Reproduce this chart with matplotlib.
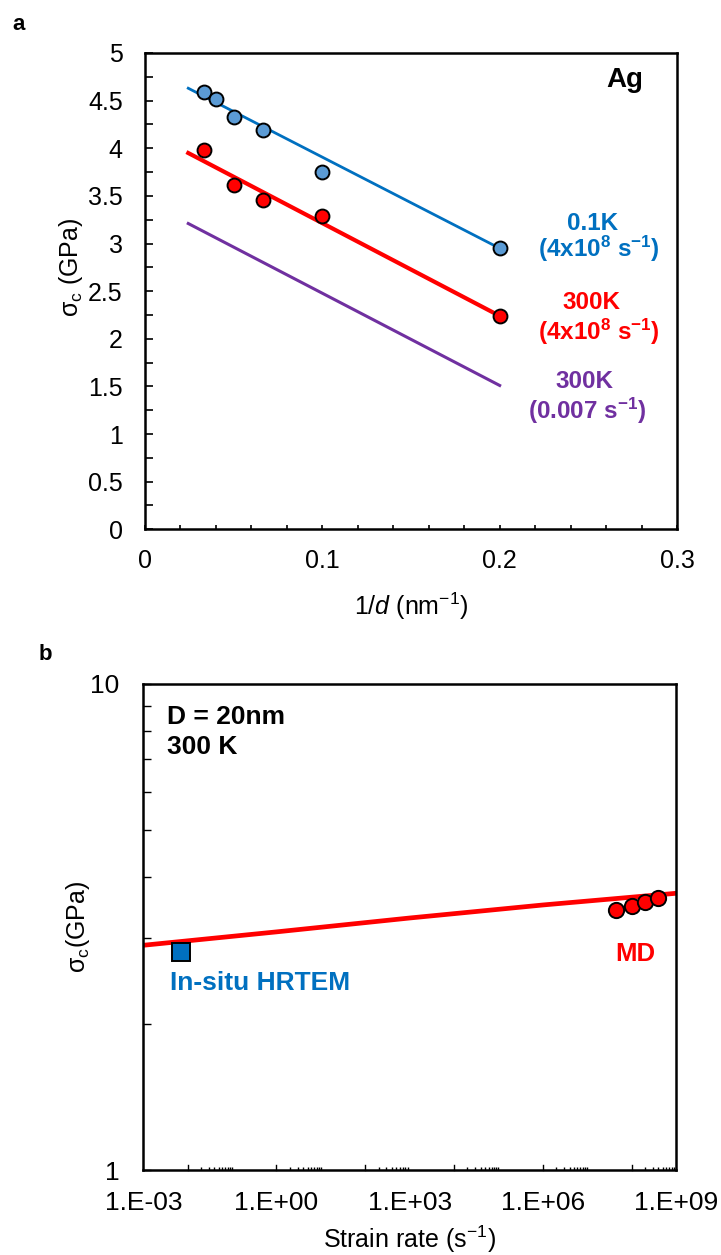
import matplotlib
matplotlib.use("Agg")
import matplotlib.pyplot as plt
from matplotlib.ticker import FixedLocator, MultipleLocator, NullFormatter

plt.rcParams['font.family'] = ['Liberation Sans', 'DejaVu Sans']
plt.rcParams['mathtext.fontset'] = 'custom'
plt.rcParams['mathtext.rm'] = 'Liberation Sans'
plt.rcParams['mathtext.it'] = 'Liberation Sans:italic'
plt.rcParams['mathtext.bf'] = 'Liberation Sans:bold'

# panel a: critical stress vs 1/d
inv_d = [0.0333, 0.04, 0.05, 0.0667, 0.1, 0.2]
sigma_01K = [4.59, 4.52, 4.33, 4.19, 3.75, 2.95]
inv_d_300K = [0.0333, 0.05, 0.0667, 0.1, 0.2]
sigma_300K = [3.98, 3.61, 3.46, 3.29, 2.24]
fit_x = [0.0244, 0.2]
fit_01K = [4.63, 2.95]
fit_300K = [3.95, 2.24]
fit_slow = [3.21, 1.51]

# panel b: critical stress vs strain rate
rate_line = [1e-3, 1e0, 1e3, 1e6, 1e9]
sigma_line = [2.90, 3.09, 3.30, 3.51, 3.71]
rate_md = [4.5e7, 1e8, 2e8, 4e8]
sigma_md = [3.43, 3.50, 3.56, 3.63]
rate_exp = [0.007]
sigma_exp = [2.81]
xtick_vals = [1e-3, 1e0, 1e3, 1e6, 1e9]
xtick_labels = ['1.E-03', '1.E+00', '1.E+03', '1.E+06', '1.E+09']

BLUE = '#0070C0'
LBLUE = '#5B9BD5'
RED = '#FF0000'
PURPLE = '#7030A0'

fig = plt.figure(figsize=(7.21, 12.55), dpi=100)
W, H = 721, 1255

# ---------------- panel a
ax = fig.add_axes([145/W, 1-529.3/H, 532/W, 476.3/H])
ax.plot(fit_x, fit_01K, color=BLUE, lw=2.0, zorder=2)
ax.plot(fit_x, fit_300K, color=RED, lw=3.0, zorder=2)
ax.plot(fit_x, fit_slow, color=PURPLE, lw=2.2, zorder=2)
ax.plot(inv_d, sigma_01K, 'o', ms=10, mfc=LBLUE, mec='black', mew=1.4, zorder=3)
ax.plot(inv_d_300K, sigma_300K, 'o', ms=10, mfc=RED, mec='black', mew=1.4, zorder=3)
ax.set_xlim(0, 0.3)
ax.set_ylim(0, 5)
ax.xaxis.set_major_locator(FixedLocator([0, 0.1, 0.2, 0.3]))
ax.set_xticklabels(['0', '0.1', '0.2', '0.3'])
ax.xaxis.set_minor_locator(MultipleLocator(0.02))
ax.yaxis.set_major_locator(MultipleLocator(0.5))
ax.yaxis.set_major_formatter(matplotlib.ticker.FuncFormatter(lambda v, p: f'{v:g}'))
ax.yaxis.set_minor_locator(MultipleLocator(0.25))
ax.tick_params(axis='both', which='both', direction='in', color='black')
ax.tick_params(axis='x', which='both', length=3.2, width=1.2, labelsize=18, pad=14)
ax.tick_params(axis='y', which='both', length=5.8, width=1.2, labelsize=18, pad=16)
for s in ax.spines.values():
    s.set_linewidth(1.8)
ax.set_xlabel(r'1/$d$ (nm$^{-1}$)', fontsize=18)
ax.xaxis.set_label_coords(0.5, -0.128)
ax.set_ylabel(r'σ$_\mathrm{c}$ (GPa)', fontsize=18)
ax.yaxis.set_label_coords(-0.112, 0.55)

ax.text(0.2705, 4.72, 'Ag', fontsize=20, fontweight='bold', ha='center', va='center')
ax.text(0.2525, 3.21, '0.1K', color=BLUE, fontsize=17.5, fontweight='bold', ha='center', va='center')
ax.text(0.256, 2.94, r'(4x10$^\mathbf{8}$ s$^\mathbf{-1}$)', color=BLUE, fontsize=17.5,
        fontweight='bold', ha='center', va='center')
ax.text(0.252, 2.38, '300K', color=RED, fontsize=17.5, fontweight='bold', ha='center', va='center')
ax.text(0.256, 2.07, r'(4x10$^\mathbf{8}$ s$^\mathbf{-1}$)', color=RED, fontsize=17.5,
        fontweight='bold', ha='center', va='center')
ax.text(0.248, 1.55, '300K', color=PURPLE, fontsize=17.5, fontweight='bold', ha='center', va='center')
ax.text(0.249, 1.24, r'(0.007 s$^\mathbf{-1}$)', color=PURPLE, fontsize=17.5,
        fontweight='bold', ha='center', va='center')

# ---------------- panel b
bx = fig.add_axes([143.3/W, 1-1170/H, 532.7/W, 486/H])
bx.set_xscale('log')
bx.set_yscale('log')
bx.plot(rate_line, sigma_line, color=RED, lw=3.4, zorder=2)
bx.plot(rate_md, sigma_md, 'o', ms=11, mfc=RED, mec='black', mew=1.4, zorder=3)
bx.plot(rate_exp, sigma_exp, 's', ms=13, mfc=BLUE, mec='black', mew=1.4, zorder=3)
bx.set_xlim(1e-3, 1e9)
bx.set_ylim(1, 10)

long_ticks = [10.0**e for e in range(-2, 9, 2)]
short_ticks = [k * 10.0**e for e in range(-2, 9, 2) for k in range(2, 11)]
bx.xaxis.set_major_locator(FixedLocator(xtick_vals))
bx.xaxis.set_major_formatter(matplotlib.ticker.FixedFormatter(xtick_labels))
bx.xaxis.set_minor_locator(FixedLocator(short_ticks))
bx.xaxis.set_minor_formatter(NullFormatter())
bx.yaxis.set_major_locator(FixedLocator([1, 10]))
bx.yaxis.set_major_formatter(matplotlib.ticker.FixedFormatter(['1', '10']))
bx.yaxis.set_minor_locator(FixedLocator([2, 3, 4, 5, 6, 7, 8, 9]))
bx.yaxis.set_minor_formatter(NullFormatter())
bx.tick_params(axis='both', which='both', direction='in', color='black', width=1.0)
bx.tick_params(axis='x', which='major', length=0, labelsize=19, pad=15)
bx.tick_params(axis='x', which='minor', length=2.2)
bx.tick_params(axis='y', which='both', length=5.8, labelsize=19, pad=17)
# taller ticks at the start of every second decade
for t in long_ticks:
    bx.plot([t, t], [1, 10**0.0105], color='black', lw=1.0, clip_on=False, zorder=4)
for s in bx.spines.values():
    s.set_linewidth(1.8)
bx.set_xlabel(r'Strain rate (s$^{-1}$)', fontsize=18)
bx.xaxis.set_label_coords(0.5, -0.11)
bx.set_ylabel(r'σ$_\mathrm{c}$(GPa)', fontsize=18)
bx.yaxis.set_label_coords(-0.096, 0.5)

bx.text(0.044, 0.933, 'D = 20nm', transform=bx.transAxes, fontsize=19, fontweight='bold',
        ha='left', va='center')
bx.text(0.044, 0.870, '300 K', transform=bx.transAxes, fontsize=19, fontweight='bold',
        ha='left', va='center')
bx.text(0.051, 0.384, 'In-situ HRTEM', transform=bx.transAxes, fontsize=19, fontweight='bold',
        color=BLUE, ha='left', va='center')
bx.text(0.924, 0.444, 'MD', transform=bx.transAxes, fontsize=18.5, fontweight='bold',
        color=RED, ha='center', va='center')

fig.text(19/W, 1-25/H, 'a', fontsize=16, fontweight='bold', ha='center', va='center')
fig.text(45/W, 1-655/H, 'b', fontsize=16, fontweight='bold', ha='center', va='center')

fig.savefig('out.png', dpi=100)
